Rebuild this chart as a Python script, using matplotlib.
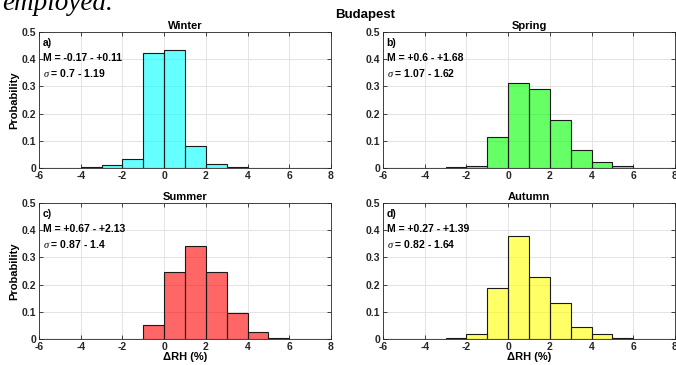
import matplotlib.pyplot as plt
import numpy as np

plt.rcParams['font.family'] = ['Liberation Sans', 'DejaVu Sans']
plt.rcParams['font.weight'] = 'bold'
plt.rcParams['axes.titleweight'] = 'bold'
plt.rcParams['axes.labelweight'] = 'bold'
plt.rcParams['axes.unicode_minus'] = False
plt.rcParams['mathtext.fontset'] = 'custom'
plt.rcParams['mathtext.it'] = 'Liberation Serif:italic:normal'

bin_edges = np.arange(-6, 9, 1)
# probability per 1%-wide bin, from -6 to 8
winter = [0, 0, 0.002, 0.010, 0.032, 0.422, 0.432, 0.080, 0.013, 0.004, 0, 0, 0, 0]
spring = [0, 0, 0, 0.004, 0.009, 0.113, 0.311, 0.289, 0.176, 0.067, 0.022, 0.007, 0.001, 0]
summer = [0, 0, 0, 0, 0, 0.052, 0.247, 0.341, 0.245, 0.094, 0.027, 0.004, 0, 0]
autumn = [0, 0, 0, 0.003, 0.017, 0.189, 0.377, 0.228, 0.133, 0.045, 0.017, 0.003, 0, 0]

seasons = ['Winter', 'Spring', 'Summer', 'Autumn']
letters = ['a)', 'b)', 'c)', 'd)']
m_ranges = ['-0.17 - +0.11', '+0.6 - +1.68', '+0.67 - +2.13', '+0.27 - +1.39']
s_ranges = ['0.7 - 1.19', '1.07 - 1.62', '0.87 - 1.4', '0.82 - 1.64']
colors = ['#00ffff', '#00ff00', '#ff0000', '#ffff00']
data = [winter, spring, summer, autumn]

fig = plt.figure(figsize=(6.76, 3.65), dpi=100)

W = 676
H = 365
boxes = [(39, 32), (383, 32), (39, 203), (383, 203)]
aw = 292
ah = 136

fig.text(2 / W, 1 - 9.5 / H, 'employed.', family='Liberation Serif', style='italic',
         weight='normal', fontsize=19.5, va='baseline', ha='left')
fig.text(365 / W, 1 - 15 / H, 'Budapest', fontsize=9.5, ha='center', va='center')

for i in range(4):
    x0, y0 = boxes[i]
    ax = fig.add_axes([x0 / W, 1 - (y0 + ah) / H, aw / W, ah / H])
    ax.bar(bin_edges[:-1], data[i], width=1, align='edge', color=colors[i],
           alpha=0.6, edgecolor='none', zorder=2)
    ax.bar(bin_edges[:-1], data[i], width=1, align='edge', fill=False,
           edgecolor='#1a1a1a', linewidth=0.8, zorder=3)
    ax.set_xlim(-6, 8)
    ax.set_ylim(0, 0.5)
    ax.set_xticks(np.arange(-6, 9, 2))
    ax.set_xticklabels([str(v) for v in range(-6, 9, 2)], fontweight='bold')
    ax.set_yticks([0, 0.1, 0.2, 0.3, 0.4, 0.5])
    ax.set_yticklabels(['0', '0.1', '0.2', '0.3', '0.4', '0.5'], fontweight='bold')
    ax.grid(True, color='#e3e3e3', linewidth=0.7, zorder=0)
    ax.set_axisbelow(True)
    ax.tick_params(direction='in', top=True, right=True, length=3, width=0.6,
                   labelsize=7.5, pad=2, colors='#262626')
    for sp in ax.spines.values():
        sp.set_color('#262626')
        sp.set_linewidth(0.6)
    ax.set_title(seasons[i], fontsize=8, pad=2)
    if i in (0, 2):
        ax.set_ylabel('Probability', fontsize=8, labelpad=2)
    if i in (2, 3):
        ax.set_xlabel('ΔRH (%)', fontsize=8, labelpad=0)
    ax.text(0.012, 0.92, letters[i], transform=ax.transAxes, fontsize=7.5, va='center')
    ax.text(0.012, 0.81, 'M = ' + m_ranges[i], transform=ax.transAxes, fontsize=7.5, va='center')
    ax.text(0.012, 0.70, r'$\sigma$ = ' + s_ranges[i], transform=ax.transAxes, fontsize=7.5, va='center')

plt.savefig('out.png', dpi=100)
